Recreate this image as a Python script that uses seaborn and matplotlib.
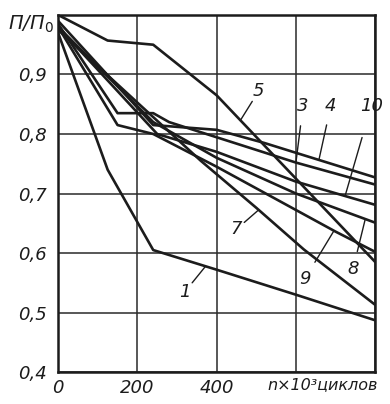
import numpy as np
import pandas as pd
import seaborn as sns
import matplotlib.pyplot as plt

# кривые П/П0 от числа циклов (n x 10^3)
n_1 = [0, 125, 240, 400, 600, 800]
r_1 = [0.97, 0.74, 0.605, 0.572, 0.53, 0.487]

n_3 = [0, 150, 240, 280, 600, 800]
r_3 = [0.985, 0.835, 0.835, 0.82, 0.752, 0.715]

n_4 = [0, 240, 400, 520, 800]
r_4 = [0.99, 0.815, 0.807, 0.785, 0.727]

n_5 = [0, 125, 240, 400, 600, 800]
r_5 = [1.0, 0.957, 0.95, 0.865, 0.725, 0.585]

n_7 = [0, 360, 500, 620, 800]
r_7 = [0.975, 0.755, 0.676, 0.606, 0.513]

n_8 = [0, 240, 400, 600, 800]
r_8 = [0.98, 0.82, 0.76, 0.70, 0.651]

n_9 = [0, 150, 240, 400, 700, 800]
r_9 = [0.98, 0.815, 0.80, 0.745, 0.636, 0.602]

n_10 = [0, 250, 400, 600, 800]
r_10 = [0.98, 0.80, 0.77, 0.72, 0.681]

curves = {'1': (n_1, r_1), '3': (n_3, r_3), '4': (n_4, r_4), '5': (n_5, r_5),
          '7': (n_7, r_7), '8': (n_8, r_8), '9': (n_9, r_9), '10': (n_10, r_10)}

y_ticks = [0.4, 0.5, 0.6, 0.7, 0.8, 0.9, 1.0]
y_labels = ['0,4', '0,5', '0,6', '0,7', '0,8', '0,9', '']
x_ticks = [0, 200, 400, 600, 800]
x_labels = ['0', '200', '400', '', '']

# подписи кривых: (текст x, текст y, x точки на кривой)
labels = {'1': (320, 0.535, 372), '5': (506, 0.872, 460), '3': (618, 0.847, 600),
          '4': (688, 0.847, 658), '10': (790, 0.847, 724), '7': (450, 0.64, 506),
          '9': (622, 0.556, 696), '8': (744, 0.573, 775)}

df = pd.concat([pd.DataFrame({'n': n, 'ratio': r, 'curve': k}) for k, (n, r) in curves.items()],
               ignore_index=True)

sns.set_theme(style='white')
plt.rcParams['font.family'] = ['DejaVu Sans']

fig = plt.figure(figsize=(3.9, 4.04), dpi=100)
ax = fig.add_axes([0.149, 0.079, 0.813, 0.884])

sns.lineplot(data=df, x='n', y='ratio', units='curve', estimator=None, sort=False,
             color='#1c1c1c', lw=1.9, legend=False, ax=ax)

ax.set_xlim(0, 800)
ax.set_ylim(0.4, 1.0)
ax.set_xticks(x_ticks)
ax.set_xticklabels(x_labels)
ax.set_yticks(y_ticks)
ax.set_yticklabels(y_labels)
ax.grid(True, color='#2a2a2a', lw=1.1)
ax.tick_params(length=0, labelsize=13)
ax.tick_params(axis='y', pad=8)
ax.tick_params(axis='x', pad=5)
for t in ax.get_xticklabels() + ax.get_yticklabels():
    t.set_fontstyle('italic')
    t.set_color('#1c1c1c')
for s in ax.spines.values():
    s.set_linewidth(1.8)
    s.set_color('#1c1c1c')
ax.set_xlabel('')
ax.set_ylabel('')

# подписи номеров кривых с выносками
for k, (tx, ty, px) in labels.items():
    n, r = curves[k]
    py = np.interp(px, n, r)
    ax.text(tx, ty, k, fontsize=13, style='italic', ha='center', va='center', color='#1c1c1c')
    ax.plot([tx + (px - tx) * 0.35, px], [ty + (py - ty) * 0.35, py], color='#1c1c1c', lw=1.0)

fig.text(0.02, 0.94, 'П/П$_0$', fontsize=14, style='italic', color='#1c1c1c', va='center')
fig.text(0.97, 0.048, 'n×10³циклов', fontsize=11.5, style='italic', color='#1c1c1c',
         ha='right', va='center')

plt.savefig('out.png', dpi=100)
